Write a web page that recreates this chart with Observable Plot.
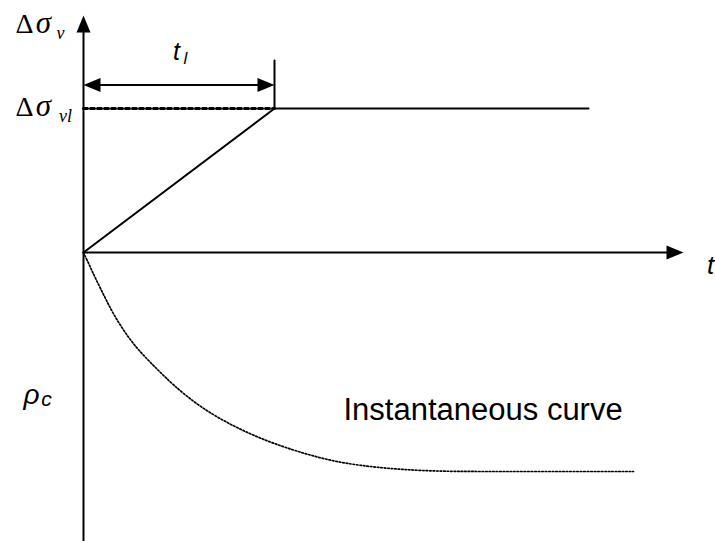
<!DOCTYPE html>
<html><head><meta charset="utf-8">
<script src="https://cdn.jsdelivr.net/npm/d3@7"></script>
<script src="https://cdn.jsdelivr.net/npm/@observablehq/plot@0.6"></script>
<style>html,body{margin:0;padding:0;background:#fff;} svg{display:block;}</style>
</head><body><div id="chart"></div>
<script>
// ---- data (chart units: time to the right, stress up, settlement down) ----
// Ramp loading history
const loadTime   = [0, 191, 505];
const loadStress = [0, 144, 144];
// Loading period t_l and final stress increment Δσ_vl
const tl = 191;
const dsvl = 144;
// Instantaneous settlement curve ρ_c
const curveTime = [0, 7, 12, 22, 30, 44, 57, 74, 89, 117, 150, 184, 217, 250, 284, 317, 357, 417, 487, 550];
const curveRho  = [0, -15, -26, -46, -62, -84, -100, -117, -132, -155, -174, -189, -200, -209, -214, -217, -219, -219, -219, -219];
// Axis extents
const timeAxis   = [0, 600];
const stressAxis = [-289, 237];
// t_l dimension line level and tick top
const tlArrowLevel = 167.5;
const tlTickTop = 192;

// ---- annotation labels (anchor positions in chart units) ----
const deltaLabels  = ["Δ", "Δ"],  deltaT = [-59, -59], deltaV = [220, 137];
const sigmaLabels  = ["σ", "σ"],  sigmaT = [-40, -40], sigmaV = [220, 137];
const sigmaSubs    = ["v", "vl"], subT   = [-23, -18], subV   = [214, 131];
const rhoLabel     = ["ρ"],       rhoT   = [-52],      rhoV   = [-151];
const rhoSub       = ["c"],       rhoSubT = [-37],     rhoSubV = [-153];
const tLabels      = ["t", "t"],  tT = [93, 627],      tV = [193, -21];
const tSizes       = [25, 26];
const tlSub        = ["l"],       tlSubT = [102],      tlSubV = [189];
const curveLabel   = ["Instantaneous curve"], curveLabelT = [260], curveLabelV = [-167];

// Arrow heads: tips and directions
const headT   = [0, timeAxis[1], 0, tl];
const headV   = [stressAxis[1], 0, tlArrowLevel, tlArrowLevel];
const headDir = [0, 90, -90, 90];

const arrowHead = {
  draw(ctx) { ctx.moveTo(0, 0); ctx.lineTo(7, 17); ctx.lineTo(-7, 17); ctx.closePath(); }
};

const serif = "'Liberation Serif', 'Times New Roman', serif";
const sans = "'Liberation Sans', Arial, sans-serif";
const idx = a => d3.range(a.length);

const chart = Plot.plot({
  width: 715,
  height: 541,
  marginLeft: 0, marginRight: 0, marginTop: 0, marginBottom: 0,
  x: {domain: [-83, 632], axis: null},
  y: {domain: [-289, 252], axis: null},
  style: {background: "#fff"},
  marks: [
    // axes
    Plot.line([[timeAxis[0], 0], [timeAxis[1] - 15, 0]], {stroke: "black", strokeWidth: 2}),
    Plot.line([[0, stressAxis[0]], [0, stressAxis[1] - 15]], {stroke: "black", strokeWidth: 2}),
    // dotted reference line at Δσ_vl
    Plot.line([[0, dsvl], [tl, dsvl]], {stroke: "black", strokeWidth: 3, strokeDasharray: "4,3"}),
    // loading history
    Plot.line(d3.zip(loadTime, loadStress), {stroke: "black", strokeWidth: 2}),
    // t_l tick and dimension line
    Plot.line([[tl, dsvl], [tl, tlTickTop]], {stroke: "black", strokeWidth: 2}),
    Plot.line([[15, tlArrowLevel], [tl - 15, tlArrowLevel]], {stroke: "black", strokeWidth: 2}),
    // instantaneous curve
    Plot.line(d3.zip(curveTime, curveRho), {curve: "basis", stroke: "black", strokeWidth: 1.7, strokeDasharray: "1.6,1.9"}),
    // arrow heads
    Plot.dot(idx(headT), {x: i => headT[i], y: i => headV[i], rotate: i => headDir[i], symbol: arrowHead, fill: "black", stroke: "none"}),
    // labels
    Plot.text(idx(deltaLabels), {x: i => deltaT[i], y: i => deltaV[i], text: i => deltaLabels[i], fontFamily: serif, fontSize: 28, lineAnchor: "bottom", textAnchor: "middle", fill: "black"}),
    Plot.text(idx(sigmaLabels), {x: i => sigmaT[i], y: i => sigmaV[i], text: i => sigmaLabels[i], fontFamily: serif, fontStyle: "italic", fontSize: 31, lineAnchor: "bottom", textAnchor: "middle", fill: "black"}),
    Plot.text(idx(sigmaSubs), {x: i => subT[i], y: i => subV[i], text: i => sigmaSubs[i], fontFamily: serif, fontStyle: "italic", fontSize: 18, lineAnchor: "bottom", textAnchor: "middle", fill: "black"}),
    Plot.text(rhoLabel, {x: rhoT, y: rhoV, text: d => d, fontFamily: sans, fontStyle: "italic", fontSize: 28, lineAnchor: "bottom", textAnchor: "middle", fill: "black"}),
    Plot.text(rhoSub, {x: rhoSubT, y: rhoSubV, text: d => d, fontFamily: sans, fontStyle: "italic", fontSize: 21, lineAnchor: "bottom", textAnchor: "middle", fill: "black"}),
    Plot.text(idx(tLabels), {x: i => tT[i], y: i => tV[i], text: i => tLabels[i], fontSize: i => tSizes[i], fontFamily: sans, fontStyle: "italic", lineAnchor: "bottom", textAnchor: "middle", fill: "black"}),
    Plot.text(tlSub, {x: tlSubT, y: tlSubV, text: d => d, fontFamily: sans, fontStyle: "italic", fontSize: 17, lineAnchor: "bottom", textAnchor: "middle", fill: "black"}),
    Plot.text(curveLabel, {x: curveLabelT, y: curveLabelV, text: d => d, fontFamily: sans, fontSize: 31, lineAnchor: "bottom", textAnchor: "start", fill: "black"})
  ]
});
document.getElementById("chart").appendChild(chart);
</script>
</body></html>
